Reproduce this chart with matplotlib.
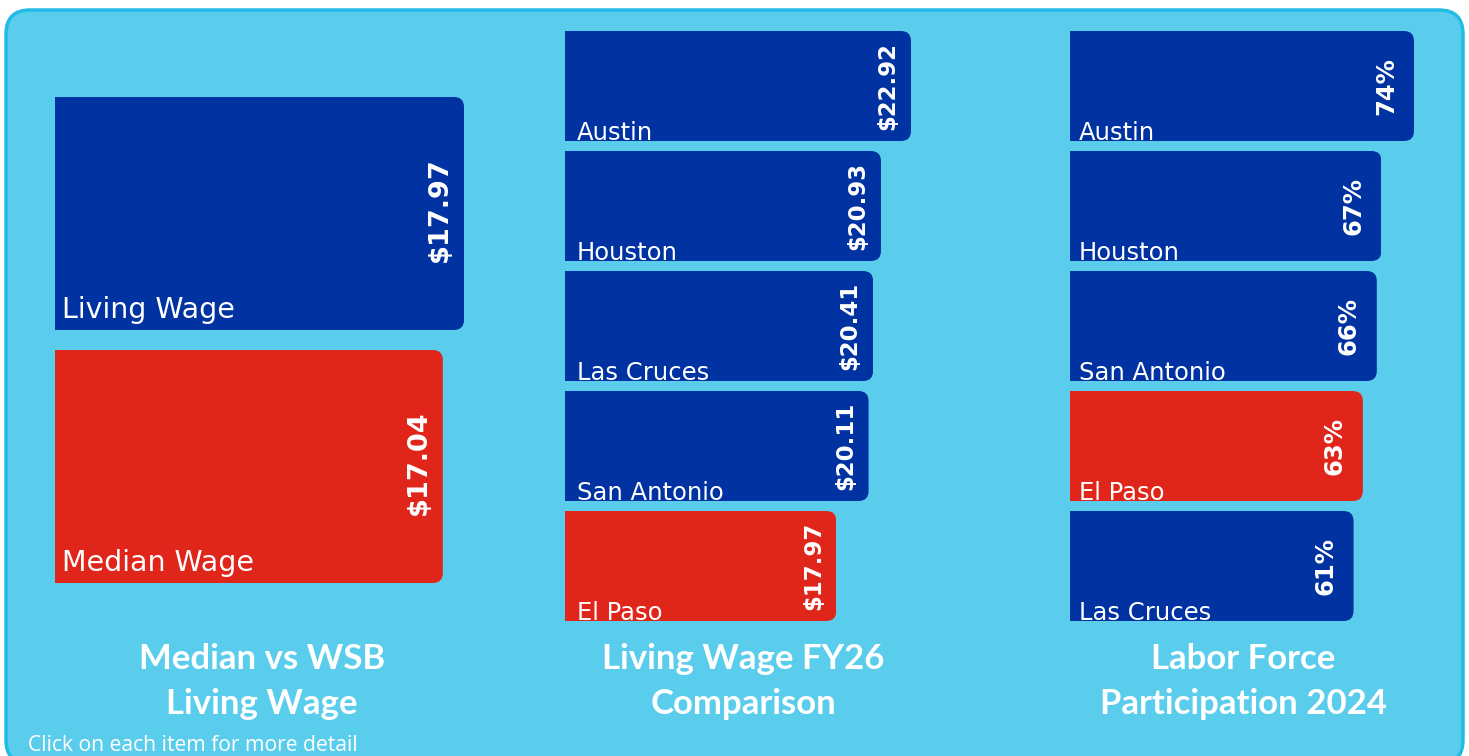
import matplotlib
matplotlib.use('Agg')
import matplotlib.pyplot as plt
from matplotlib.patches import FancyBboxPatch
from matplotlib.transforms import IdentityTransform

# --- data ---
wage_labels = ['Living Wage', 'Median Wage']
wage_values = [17.97, 17.04]
wage_text = ['$17.97', '$17.04']

city_wage_labels = ['Austin', 'Houston', 'Las Cruces', 'San Antonio', 'El Paso']
city_wage_values = [22.92, 20.93, 20.41, 20.11, 17.97]
city_wage_text = ['$22.92', '$20.93', '$20.41', '$20.11', '$17.97']

lfp_labels = ['Austin', 'Houston', 'San Antonio', 'El Paso', 'Las Cruces']
lfp_values = [74, 67, 66, 63, 61]
lfp_text = ['74%', '67%', '66%', '63%', '61%']

titles = [('Median vs WSB', 'Living Wage'),
          ('Living Wage FY26', 'Comparison'),
          ('Labor Force', 'Participation 2024')]
footer = 'Click on each item for more detail'

BLUE = '#0033a1'
RED = '#e0261b'
BG = '#5bcdec'
EDGE = '#22bbe6'
W, H = 1469, 756

TITLE_FONT = 'Lato'
LABEL_FONT = 'DejaVu Sans'

fig = plt.figure(figsize=(W / 100, H / 100), dpi=100, facecolor='white')

# rounded panel background (pixel coords), kept behind the axes
bg = FancyBboxPatch((6, -8), 1457, 754, boxstyle='round,pad=0,rounding_size=24',
                    facecolor=BG, edgecolor=EDGE, linewidth=2.5,
                    transform=IdentityTransform(), zorder=-5)
fig.add_artist(bg)


def px_axes(left, top, width, height):
    # axes placed with pixel measurements from the top-left corner
    return fig.add_axes([left / W, 1 - (top + height) / H, width / W, height / H])


def round_right(ax, bars, radius=10):
    # clip each bar with a rounded box that sticks out on the left -> only right corners round
    for b in bars:
        x0, y0 = ax.transData.transform((b.get_x(), b.get_y()))
        x1, y1 = ax.transData.transform((b.get_x() + b.get_width(),
                                         b.get_y() + b.get_height()))
        lx, hx = min(x0, x1), max(x0, x1)
        ly, hy = min(y0, y1), max(y0, y1)
        clip = FancyBboxPatch((lx - 3 * radius, ly), hx - lx + 3 * radius, hy - ly,
                              boxstyle=f'round,pad=0,rounding_size={radius}',
                              transform=IdentityTransform())
        b.set_clip_path(clip)


def panel(left, top, pitch, bar_h, px_per_unit, labels, values, texts, colors,
          lab_size, lab_off, val_size, val_off, val_dy=0):
    n = len(values)
    h = bar_h / pitch
    height = (n - 1) * pitch + bar_h
    width = 480
    ax = px_axes(left, top, width, height)
    ax.set_xlim(0, width / px_per_unit)
    ax.set_ylim(n - 1 + h / 2, -h / 2)
    ax.axis('off')
    bars = ax.barh(range(n), values, height=h, color=colors, linewidth=0)
    for i, (lab, v, t) in enumerate(zip(labels, values, texts)):
        ax.annotate(lab, xy=(0, i + h / 2), xytext=(lab_off[0] * 0.72, lab_off[1] * 0.72),
                    textcoords='offset points', ha='left', va='baseline',
                    color='white', fontsize=lab_size, family=LABEL_FONT)
        ax.annotate(t, xy=(v, i), xytext=(-val_off * 0.72, val_dy * 0.72),
                    textcoords='offset points',
                    ha='center', va='center', rotation=90, color='white',
                    fontsize=val_size, fontweight='bold', family=LABEL_FONT)
    return ax, bars


ax1, b1 = panel(55, 97, 253, 233, 409 / 17.97, wage_labels, wage_values, wage_text,
                [BLUE, RED], 20.5, (7, 12), 19.5, 24, 4)
ax2, b2 = panel(565, 31, 120, 110, 346 / 22.92, city_wage_labels, city_wage_values,
                city_wage_text, [BLUE, BLUE, BLUE, BLUE, RED], 17.5, (12, 1), 16.5, 23)
ax3, b3 = panel(1070, 31, 120, 110, 344 / 74, lfp_labels, lfp_values, lfp_text,
                [BLUE, BLUE, BLUE, RED, BLUE], 17.5, (9, 1), 17.5, 28)

for ax, bars in [(ax1, b1), (ax2, b2), (ax3, b3)]:
    round_right(ax, bars)

# panel titles
for cx, (l1, l2) in zip([262, 743, 1243], titles):
    fig.text(cx / W, 1 - 659 / H, l1, ha='center', va='center', color='white',
             fontsize=25, fontweight='bold', family=TITLE_FONT)
    fig.text(cx / W, 1 - 704 / H, l2, ha='center', va='center', color='white',
             fontsize=25, fontweight='bold', family=TITLE_FONT)

fig.text(28 / W, 1 - 751 / H, footer, ha='left', va='baseline', color='white',
         fontsize=15.2, family='Open Sans')

fig.savefig('out.png', dpi=100, facecolor='white')
